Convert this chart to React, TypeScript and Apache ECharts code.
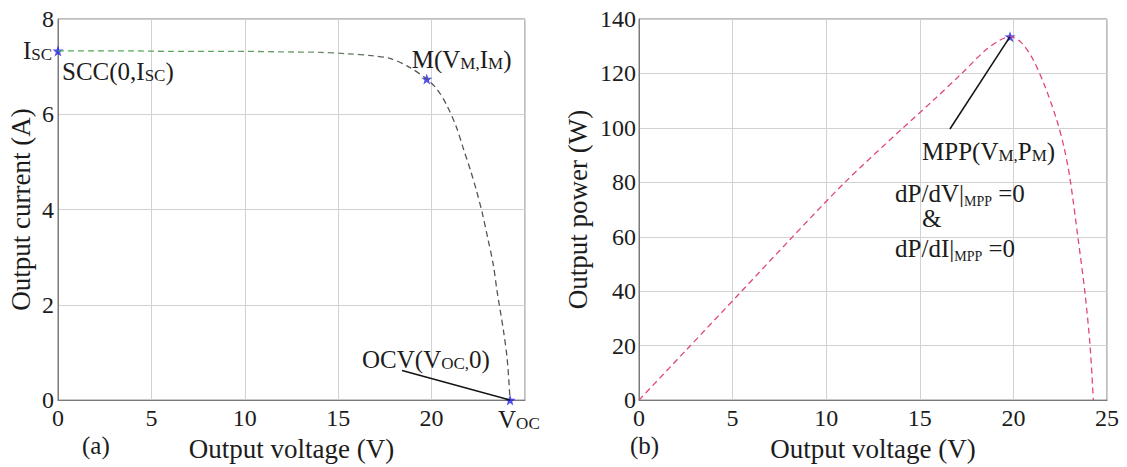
import React, { useEffect, useRef } from 'react';
import * as echarts from 'echarts';

// I-V curve (left panel)
const ivVoltage = [0, 2, 4, 6, 8, 10, 12, 14, 15.5, 16.8, 17.8, 18.8, 19.74, 20.3, 20.8, 21.3, 21.7, 22.1, 22.4, 22.7, 23.0, 23.3, 23.5, 23.85, 24.05, 24.2];
const ivCurrent = [7.33, 7.33, 7.33, 7.32, 7.32, 7.32, 7.31, 7.3, 7.27, 7.23, 7.17, 6.99, 6.74, 6.52, 6.2, 5.76, 5.28, 4.8, 4.4, 3.95, 3.41, 2.85, 2.3, 1.45, 0.85, 0];

// P-V curve (right panel)
const pvVoltage = [0, 2.55, 5.4, 8.07, 11.0, 14.1, 15.7, 17.24, 18.5, 19.3, 19.82, 20.4, 21.06, 21.7, 22.31, 22.7, 23.02, 23.45, 23.83, 24.1, 24.27];
const pvPower = [0, 18.6, 39.4, 59, 80, 100, 110, 120, 128.5, 132.3, 133.5, 131.5, 125, 115, 103, 93, 81.5, 59.6, 39, 19.6, 0];

const voltageTicks = { min: 0, max: 25, interval: 5 };
const currentTicks = { min: 0, max: 8, interval: 2 };
const powerTicks = { min: 0, max: 140, interval: 20 };

// key points
const sccPoint = [0, 7.33];
const mPoint = [19.74, 6.74];
const ocvPoint = [24.2, 0];
const mppPoint = [19.82, 133.5];
const ocvLeaderStart = [18.42, 0.62];
const mppLeaderStart = [16.61, 99.6];

const FONT = 'Liberation Serif';
const TXT = '#1c1c1c';

const rich = {
  n: { fontSize: 25, fontFamily: FONT, color: TXT, verticalAlign: 'bottom' },
  s: { fontSize: 17, fontFamily: FONT, color: TXT, verticalAlign: 'bottom' },
  t: { fontSize: 25, fontFamily: FONT, color: TXT, verticalAlign: 'top', lineHeight: 24 },
  a: { fontSize: 25, fontFamily: FONT, color: TXT, lineHeight: 22 },
  sub: { fontSize: 14, fontFamily: FONT, color: TXT, verticalAlign: 'top', lineHeight: 10, padding: [14, 0, 0, 0] },
};

const STAR = 'path://M0,-10 L2.4,-3.2 9.5,-3.1 3.8,1.2 5.9,8.1 0,4 -5.9,8.1 -3.8,1.2 -9.5,-3.1 -2.4,-3.2Z';

function lbl(coord: number[], text: string, offset: number[], align = 'left') {
  return {
    coord,
    symbol: 'circle',
    symbolSize: 1,
    itemStyle: { color: 'transparent' },
    label: {
      show: true,
      position: 'inside',
      align,
      verticalAlign: 'middle',
      offset,
      formatter: text,
      rich,
    },
  };
}

const tickLabel = { fontSize: 24, fontFamily: FONT, color: TXT };

function axisCommon() {
  return {
    axisLine: { show: true, lineStyle: { color: '#7a7a7a', width: 1 } },
    axisTick: { show: false },
    splitLine: { show: true, lineStyle: { color: '#d2d2d2', width: 1 } },
    nameTextStyle: { fontSize: 27, fontFamily: FONT, color: TXT },
    nameLocation: 'middle',
  };
}

export default function App() {
  const ref = useRef<HTMLDivElement>(null);
  useEffect(() => {
    if (!ref.current) return;
    const chart = echarts.init(ref.current, null, { renderer: 'svg' });
    const ivData = ivVoltage.map((v, i) => [v, ivCurrent[i]]);
    const pvData = pvVoltage.map((v, i) => [v, pvPower[i]]);
    const gridBox = { show: true, borderColor: '#7a7a7a', borderWidth: 1, backgroundColor: '#fff' };
    chart.setOption({
      animation: false,
      backgroundColor: '#fff',
      textStyle: { fontFamily: FONT },
      grid: [
        { left: 58, top: 19, width: 467, height: 385, ...gridBox },
        { left: 639, top: 19, width: 468, height: 385, ...gridBox },
      ],
      xAxis: [
        {
          ...axisCommon(), type: 'value', gridIndex: 0, ...voltageTicks,
          name: 'Output voltage (V)', nameGap: 30,
          axisLabel: { ...tickLabel, margin: 6, formatter: (v: number) => (v === 25 ? '' : String(v)) },
        },
        {
          ...axisCommon(), type: 'value', gridIndex: 1, ...voltageTicks,
          name: 'Output voltage (V)', nameGap: 30,
          axisLabel: { ...tickLabel, margin: 6 },
        },
      ],
      yAxis: [
        {
          ...axisCommon(), type: 'value', gridIndex: 0, ...currentTicks,
          name: 'Output current (A)', nameGap: 24,
          axisLabel: { ...tickLabel, margin: 4 },
        },
        {
          ...axisCommon(), type: 'value', gridIndex: 1, ...powerTicks,
          name: 'Output power (W)', nameGap: 48,
          axisLabel: { ...tickLabel, margin: 3 },
        },
      ],
      series: [
        {
          type: 'line', xAxisIndex: 0, yAxisIndex: 0, data: ivData, showSymbol: false, smooth: 0.3,
          lineStyle: {
            width: 1.3, type: [6, 4],
            color: new echarts.graphic.LinearGradient(0, 0, 1, 0, [
              { offset: 0, color: '#4caf50' },
              { offset: 0.55, color: '#6a9a6a' },
              { offset: 0.75, color: '#555' },
              { offset: 1, color: '#555' },
            ]),
          },
        },
        {
          type: 'line', xAxisIndex: 1, yAxisIndex: 1, data: pvData, showSymbol: false, smooth: 0.3,
          lineStyle: { width: 1.3, type: [6, 4], color: '#e0487a' },
        },
        {
          type: 'scatter', xAxisIndex: 0, yAxisIndex: 0, symbol: STAR, symbolSize: 11,
          itemStyle: { color: '#2323e8' },
          data: [sccPoint, mPoint, ocvPoint],
          markLine: {
            silent: true, symbol: 'none', animation: false,
            lineStyle: { color: '#111', width: 1.5, type: 'solid' },
            label: { show: false },
            data: [[{ coord: ocvLeaderStart }, { coord: ocvPoint }]],
          },
          markPoint: {
            silent: true,
            data: [
              lbl(sccPoint, '{n|I}{s|SC}', [-6, 0], 'right'),
              lbl(sccPoint, '{n|SCC(0,I}{s|SC}{n|)}', [4, 21]),
              lbl(mPoint, '{n|M(V}{s|M,}{n|I}{s|M}{n|)}', [-15, -20]),
              lbl(ocvPoint, '{n|OCV(V}{s|OC,}{n|0)}', [-148, -41]),
              lbl(ocvPoint, '{n|V}{s|OC}', [-12, 19]),
            ],
          },
        },
        {
          type: 'scatter', xAxisIndex: 1, yAxisIndex: 1, symbol: STAR, symbolSize: 11,
          itemStyle: { color: '#2323e8' },
          data: [mppPoint],
          markLine: {
            silent: true, symbol: 'none', animation: false,
            lineStyle: { color: '#111', width: 1.5, type: 'solid' },
            label: { show: false },
            data: [[{ coord: mppLeaderStart }, { coord: mppPoint }]],
          },
          markPoint: {
            silent: true,
            data: [
              lbl(mppPoint, '{n|MPP(V}{s|M,}{n|P}{s|M}{n|)}', [-88, 115]),
              lbl(mppPoint, '{t|dP/dV|}{sub|MPP}{t| =0}', [-115, 156]),
              lbl(mppPoint, '{a|&}', [-88, 182]),
              lbl(mppPoint, '{t|dP/dI|}{sub|MPP}{t| =0}', [-115, 211]),
            ],
          },
        },
      ],
      graphic: [
        { type: 'text', left: 82, top: 433, style: { text: '(a)', fontSize: 25, fontFamily: FONT, fill: TXT } },
        { type: 'text', left: 630, top: 433, style: { text: '(b)', fontSize: 25, fontFamily: FONT, fill: TXT } },
      ],
    });
    return () => chart.dispose();
  }, []);
  return <div ref={ref} style={{ position: 'fixed', left: 0, top: 0, width: 1127, height: 467 }} />;
}
